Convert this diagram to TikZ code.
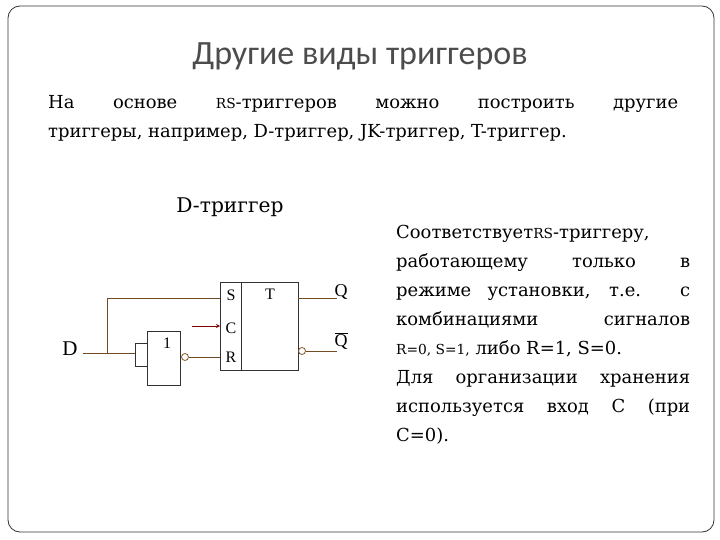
\documentclass[tikz,border=0pt]{standalone}
\usepackage{fontspec}
\setmainfont{DejaVu Serif}[Scale=0.92]
\newfontfamily\titlefont{Carlito}
\newfontfamily\schemfont{Liberation Serif}
\newcommand{\smallrs}[1]{{\fontsize{15}{29}\selectfont #1}}
\usetikzlibrary{arrows}
\tikzstyle{wire} = [line width=0.8pt, draw=brown!60!black]
\tikzstyle{blk} = [draw=black!80, line width=0.6pt]
\tikzstyle{bubble} = [circle, draw=brown!70!black, line width=0.8pt, inner sep=0pt, minimum size=7pt]
\tikzstyle{lbl} = [font=\schemfont\fontsize{16}{17}\selectfont, inner sep=0pt]
\tikzstyle{body} = [font=\fontsize{19.5}{29}\selectfont, inner sep=0pt, align=justify, anchor=north west]
\begin{document}
\begin{tikzpicture}[x=1pt, y=-1pt]
      \useasboundingbox (0,0) rectangle (720,540);
      \draw [black!80, line width=0.8pt, rounded corners=12pt] (8,6) rectangle (714,532);
      \node (title) at (360,56) [font=\titlefont\fontsize{34}{36}\selectfont, text=black!70] {Другие виды триггеров};
      \node (intro) at (48,95) [body, text width=630pt] {На основе \smallrs{RS}-триггеров можно построить другие\linebreak
        триггеры, например, D-триггер, JK-триггер, T-триггер.};
      \node (dname) at (230,207) [font=\fontsize{22}{24}\selectfont] {D-триггер};
      \node (desc) at (396,225) [body, text width=294pt] {Соответствует\smallrs{RS}-триггеру,\newline
        работающему только в\linebreak режиме установки, т.е. с\linebreak комбинациями сигналов\linebreak
        \smallrs{R=0, S=1,} либо R=1, S=0.\newline Для организации хранения\linebreak
        используется вход С (при\linebreak С=0).};
      % trigger
      \node (trig) at (259,326) [blk, minimum width=78pt, minimum height=88pt, inner sep=0pt] {};
      \draw [blk] (241,282) -- (241,370);
      \node (s) at (231,295) [lbl] {S};
      \node (c) at (231,328) [lbl] {C};
      \node (r) at (231,357) [lbl] {R};
      \node (t) at (270,294) [lbl] {T};
      \coordinate (sin) at (220,298);
      \coordinate (cin) at (220,326);
      \coordinate (rin) at (220,357);
      % gate
      \node (gate) at (163.5,358) [blk, minimum width=33pt, minimum height=54pt, inner sep=0pt] {};
      \node (one) at (167,343) [lbl] {1};
      \draw [blk] (147,343) -- (135,343) -- (135,366) -- (147,366);
      \node (gbub) at (185,357) [bubble] {};
      \node (qbub) at (302,351) [bubble] {};
      % inputs and outputs
      \node (d) at (70,349) [font=\schemfont\fontsize{21}{22}\selectfont] {D};
      \coordinate (split) at (107,353);
      \coordinate (gin) at (135,353);
      \coordinate (top) at (107,298);
      \coordinate (dst) at (83,353);
      \draw [wire] (dst) -- (gin);
      \draw [wire] (split) -- (top) -- (sin);
      \draw [wire] (gbub) -- (rin);
      \draw [wire, ->, >=stealth, red!50!black] (192,326) -- (cin);
      \coordinate (qout) at (298,298);
      \coordinate (qend) at (337,298);
      \coordinate (qbend) at (337,351);
      \draw [wire] (qout) -- (qend);
      \draw [wire] (qbub) -- (qbend);
      \node (q) at (341,292) [font=\schemfont\fontsize{18}{18}\selectfont] {Q};
      \node (qb) at (341,341) [font=\schemfont\fontsize{18}{18}\selectfont] {$\overline{\mbox{Q}}$};
    \end{tikzpicture}
\end{document}
